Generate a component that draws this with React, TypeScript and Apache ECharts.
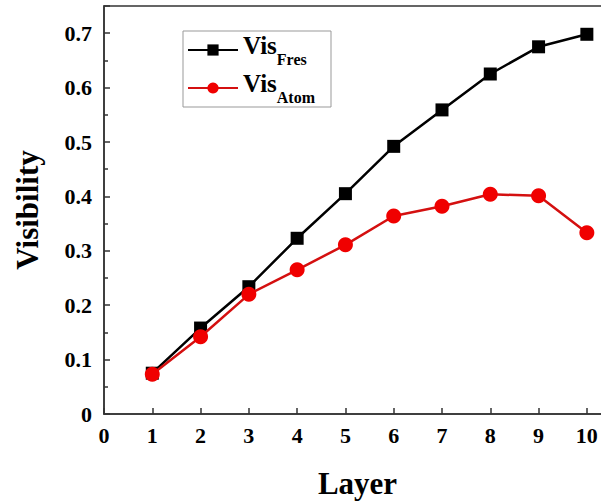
import React, { useEffect, useRef } from "react";
import * as echarts from "echarts";

const layers = [1, 2, 3, 4, 5, 6, 7, 8, 9, 10];
const visFres = [0.075, 0.158, 0.234, 0.323, 0.405, 0.492, 0.559, 0.625, 0.675, 0.698];
const visAtom = [0.073, 0.142, 0.22, 0.265, 0.311, 0.364, 0.382, 0.404, 0.401, 0.333];
const xTicks = [0, 1, 2, 3, 4, 5, 6, 7, 8, 9, 10];
const yTicks = [0, 0.1, 0.2, 0.3, 0.4, 0.5, 0.6, 0.7];

const FONT = "'Liberation Serif', 'Times New Roman', serif";

export default function App() {
  const ref = useRef<HTMLDivElement>(null);
  useEffect(() => {
    document.body.style.margin = "0";
    if (!ref.current) return;
    const chart = echarts.init(ref.current, null, { renderer: "svg" });
    const axisColor = "#333";
    chart.setOption({
      animation: false,
      backgroundColor: "#fff",
      grid: {
        left: 104,
        top: 6,
        bottom: 89,
        width: 507,
        show: true,
        borderColor: axisColor,
        borderWidth: 1.5,
        containLabel: false,
        outerBoundsMode: "none",
      },
      legend: {
        orient: "vertical",
        left: 183,
        top: 31,
        itemWidth: 50,
        itemHeight: 14,
        itemGap: 4,
        padding: [2, 16, 2, 4],
        borderColor: "#999",
        borderWidth: 1,
        formatter: (name: string) => {
          const sub = name.replace("Vis_", "");
          return "{a|Vis}{b|" + sub + "}";
        },
        textStyle: {
          fontFamily: FONT,
          color: "#000",
          rich: {
            a: { fontSize: 25, fontWeight: "bold", fontFamily: FONT, color: "#000", lineHeight: 34, verticalAlign: "top" },
            b: { fontSize: 16, fontWeight: "bold", fontFamily: FONT, color: "#000", lineHeight: 14, verticalAlign: "bottom" },
          },
        },
        data: ["Vis_Fres", "Vis_Atom"],
      },
      xAxis: {
        type: "value",
        min: 0,
        max: 10.5,
        interval: 1,
        name: "Layer",
        nameLocation: "middle",
        nameGap: 54,
        nameTextStyle: { fontFamily: FONT, fontSize: 31, fontWeight: "bold", color: "#000" },
        axisLine: { show: true, lineStyle: { color: axisColor, width: 1.5 } },
        axisTick: { show: true, inside: true, length: 6, lineStyle: { color: axisColor, width: 1.5 } },
        axisLabel: {
          fontFamily: FONT,
          fontSize: 22,
          fontWeight: "bold",
          color: "#000",
          margin: 10,
          showMaxLabel: false,
          formatter: (v: number) => (xTicks.includes(v) ? String(v) : ""),
        },
        splitLine: { show: false },
      },
      yAxis: {
        type: "value",
        min: 0,
        max: 0.75,
        interval: 0.1,
        name: "Visibility",
        nameLocation: "middle",
        nameRotate: 90,
        nameGap: 61,
        nameTextStyle: { fontFamily: FONT, fontSize: 31, fontWeight: "bold", color: "#000" },
        axisLine: { show: true, lineStyle: { color: axisColor, width: 1.5 } },
        axisTick: { show: true, inside: true, length: 6, lineStyle: { color: axisColor, width: 1.5 } },
        minorTick: { show: true, splitNumber: 2, length: 4, lineStyle: { color: axisColor, width: 1.5 } },
        axisLabel: {
          fontFamily: FONT,
          fontSize: 22,
          fontWeight: "bold",
          color: "#000",
          margin: 12,
          showMaxLabel: false,
          formatter: (v: number) => {
            const r = Math.round(v * 100) / 100;
            const hit = yTicks.find((t) => Math.abs(t - r) < 1e-6);
            if (hit === undefined) return "";
            return hit === 0 ? "0" : hit.toFixed(1);
          },
        },
        splitLine: { show: false },
      },
      series: [
        {
          name: "Vis_Fres",
          type: "line",
          data: layers.map((l, i) => [l, visFres[i]]),
          symbol: "rect",
          symbolSize: 13,
          itemStyle: { color: "#000" },
          lineStyle: { color: "#000", width: 2.5 },
          z: 2,
        },
        {
          name: "Vis_Atom",
          type: "line",
          data: layers.map((l, i) => [l, visAtom[i]]),
          symbol: "circle",
          symbolSize: 15,
          itemStyle: { color: "#f00000" },
          lineStyle: { color: "#d41010", width: 2.5 },
          z: 3,
        },
      ],
    });
    return () => chart.dispose();
  }, []);
  return <div ref={ref} style={{ width: 601, height: 503 }} />;
}
